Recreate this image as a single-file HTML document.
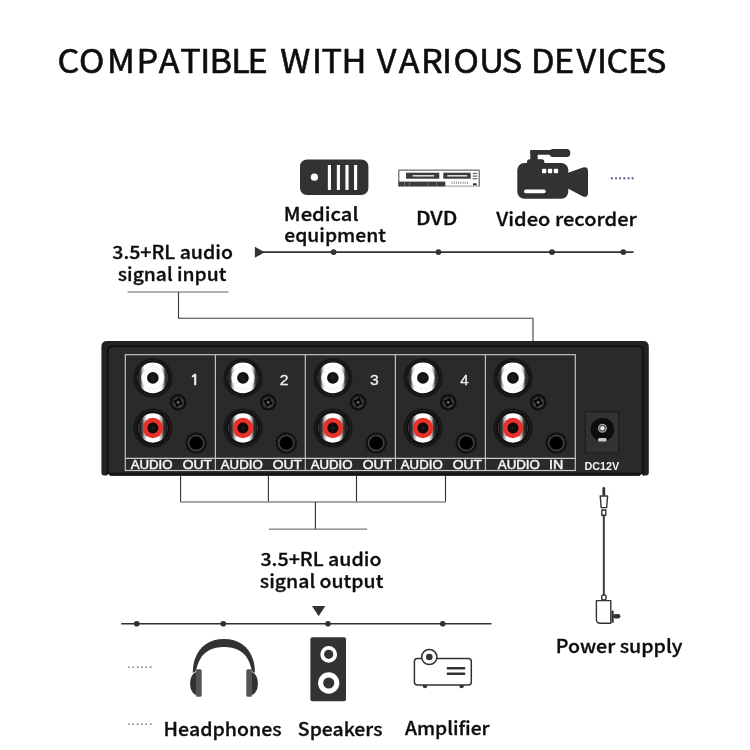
<!DOCTYPE html>
<html lang="en">
<head>
<meta charset="utf-8">
<title>Compatible with various devices</title>
<style>
html,body{margin:0;padding:0;background:#fff;}
body{width:750px;height:750px;overflow:hidden;}
svg{display:block;}
text{font-family:"Liberation Sans",sans-serif;white-space:pre;}
</style>
</head>
<body>
<svg width="750" height="750" viewBox="0 0 750 750">
<defs>
<filter id="soft0" x="0" y="0" width="750" height="750" filterUnits="userSpaceOnUse"><feGaussianBlur stdDeviation="0.3"/></filter>
<filter id="soft" x="-5%" y="-5%" width="110%" height="110%"><feGaussianBlur stdDeviation="0.45"/></filter>
<linearGradient id="ringw" x1="0" y1="0" x2="1" y2="0">
<stop offset="0" stop-color="#6a6a6a"/><stop offset="0.03" stop-color="#202020"/><stop offset="0.10" stop-color="#404040"/><stop offset="0.16" stop-color="#b8b8b8"/><stop offset="0.23" stop-color="#ffffff"/><stop offset="0.77" stop-color="#ffffff"/><stop offset="0.84" stop-color="#b8b8b8"/><stop offset="0.90" stop-color="#404040"/><stop offset="0.97" stop-color="#202020"/><stop offset="1" stop-color="#6a6a6a"/>
</linearGradient>
<linearGradient id="ringr" x1="0" y1="0" x2="1" y2="0">
<stop offset="0" stop-color="#606060"/><stop offset="0.03" stop-color="#1c1c1c"/><stop offset="0.13" stop-color="#343434"/><stop offset="0.21" stop-color="#b0b0b0"/><stop offset="0.3" stop-color="#ffffff"/><stop offset="0.7" stop-color="#ffffff"/><stop offset="0.79" stop-color="#b0b0b0"/><stop offset="0.87" stop-color="#343434"/><stop offset="0.97" stop-color="#1c1c1c"/><stop offset="1" stop-color="#606060"/>
</linearGradient>
<radialGradient id="recess" cx="50%" cy="50%" r="50%"><stop offset="0" stop-color="#0e0e0e"/><stop offset="0.80" stop-color="#101010"/><stop offset="0.90" stop-color="#1c1c1c"/><stop offset="0.96" stop-color="#151515"/><stop offset="1" stop-color="#1f1f1f"/></radialGradient>
<radialGradient id="holew" cx="50%" cy="50%" r="50%"><stop offset="0" stop-color="#222"/><stop offset="0.6" stop-color="#141414"/><stop offset="1" stop-color="#0a0a0a"/></radialGradient>
<radialGradient id="holer" cx="50%" cy="50%" r="50%"><stop offset="0" stop-color="#222"/><stop offset="0.5" stop-color="#0a0a0a"/><stop offset="0.85" stop-color="#1a0505"/><stop offset="1" stop-color="#5a0f0c"/></radialGradient>
<radialGradient id="jackg" cx="50%" cy="50%" r="50%"><stop offset="0" stop-color="#0c0c0c"/><stop offset="0.82" stop-color="#0f0f0f"/><stop offset="0.93" stop-color="#161616"/><stop offset="1" stop-color="#222"/></radialGradient>
<radialGradient id="screwg" cx="55%" cy="60%" r="60%"><stop offset="0" stop-color="#4c4c4c"/><stop offset="0.6" stop-color="#393939"/><stop offset="1" stop-color="#2a2a2a"/></radialGradient>
</defs>
<rect width="750" height="750" fill="#fff"/>
<g id="art" filter="url(#soft0)">

<text transform="scale(1.0450 1)" x="54.98 75.56 102.46 130.73 151.92 172.61 191.69 200.46 221.39 236.96 256.64 268.14 298.53 307.73 326.76 346.44 360.57 381.49 402.87 422.93 433.89 458.64 480.25 499.93 508.24 530.07 551.76 571.21 580.48 600.79 618.24" y="73.00" font-size="32.80" style="font-family:'Noto Sans CJK SC','DejaVu Sans',sans-serif" fill="#0d0d0d" stroke="#0d0d0d" stroke-width="0.60" stroke-linejoin="round">COMPATIBLE WITH VARIOUS DEVICES</text>
<g id="ic-medical"><rect x="300" y="159.4" width="68.4" height="35.6" rx="7" fill="#333"/>
<circle cx="314.4" cy="177.2" r="3.6" fill="#fff"/>
<rect x="327.85" y="165" width="3.1" height="25" fill="#fff"/>
<rect x="336.85" y="165" width="3.1" height="25" fill="#fff"/>
<rect x="345.45" y="165" width="3.1" height="25" fill="#fff"/>
<rect x="354.05" y="165" width="3.1" height="25" fill="#fff"/>
</g>
<g id="ic-dvd">
<rect x="398.8" y="170.1" width="80.4" height="16" fill="#fff"/><path d="M398.8 186.1 H479.2" stroke="#9a9a9a" stroke-width="1" fill="none"/><path d="M398.8 186.4 V170.1 H479.2 V186.4" stroke="#444" stroke-width="1" fill="none"/>
<rect x="406" y="172.7" width="33.3" height="6" fill="#3a3a3a"/><rect x="412.7" y="175" width="21.3" height="1.6" fill="#d8d8d8"/>
<rect x="443.3" y="172.7" width="27.4" height="6" fill="#3a3a3a"/><rect x="447.3" y="175" width="20" height="1.6" fill="#d8d8d8"/>
<rect x="472.7" y="172.9" width="4.6" height="1.2" fill="#666"/>
<rect x="472.7" y="175.5" width="4.6" height="1.2" fill="#666"/>
<rect x="472.7" y="178.1" width="4.6" height="1.2" fill="#666"/>
<rect x="398.7" y="181.6" width="46.6" height="4.8" fill="#3a3a3a"/>
<rect x="404.0" y="181.6" width="0.7" height="4.8" fill="#888"/>
<rect x="409.3" y="181.6" width="0.7" height="4.8" fill="#888"/>
<rect x="427.6" y="181.6" width="0.7" height="4.8" fill="#888"/>
<rect x="436.5" y="181.6" width="0.7" height="4.8" fill="#888"/>
<rect x="451.5" y="181.6" width="1" height="2.4" fill="#999"/>
<rect x="453.7" y="181.6" width="1" height="2.4" fill="#999"/>
<rect x="455.9" y="181.6" width="1" height="2.4" fill="#999"/>
<rect x="458.1" y="181.6" width="1" height="2.4" fill="#999"/>
<rect x="460.3" y="181.6" width="1" height="2.4" fill="#999"/>
<rect x="462.5" y="181.6" width="1" height="2.4" fill="#999"/>
<rect x="464.7" y="181.6" width="1" height="2.4" fill="#999"/>
<rect x="466.9" y="181.6" width="1" height="2.4" fill="#999"/>
<rect x="473" y="183.3" width="3.7" height="2" fill="#333"/>
</g>
<g id="ic-cam" fill="#333">
<rect x="517.3" y="162.9" width="51" height="35.8" rx="7"/>
<path d="M566 173.4 L583 167.5 Q588 165.9 588 171.3 V192.7 Q588 198.1 583 196.5 L566 187.6 Z"/>
<rect x="530.3" y="150" width="30" height="4.8" rx="1.5"/>
<rect x="549.5" y="149" width="20.7" height="8" rx="3.5"/>
<rect x="530.3" y="150" width="7.4" height="14"/>
<rect x="527" y="159.3" width="17.3" height="6" rx="2.5"/>
<rect x="542.0" y="168.7" width="4.3" height="4.6" rx="1" fill="#fff"/>
<rect x="547.9" y="168.7" width="4.3" height="4.6" rx="1" fill="#fff"/>
<rect x="553.8" y="168.7" width="4.3" height="4.6" rx="1" fill="#fff"/>
<rect x="524" y="189.6" width="21.7" height="3.7" rx="1.8" fill="#fff"/>
</g>
<text x="609.78" y="178.70" font-size="15.00" fill="#46507a" textLength="25.03" lengthAdjust="spacingAndGlyphs" stroke="#46507a" stroke-width="0.30" stroke-linejoin="round">......</text>
<text x="283.87" y="220.80" font-size="18.20" font-weight="500" style="font-family:'Noto Sans CJK SC','DejaVu Sans',sans-serif" fill="#111" textLength="74.63" lengthAdjust="spacingAndGlyphs" stroke="#111" stroke-width="0.32" stroke-linejoin="round">Medical</text>
<text x="284.25" y="242.00" font-size="18.20" font-weight="500" style="font-family:'Noto Sans CJK SC','DejaVu Sans',sans-serif" fill="#111" textLength="101.69" lengthAdjust="spacingAndGlyphs" stroke="#111" stroke-width="0.32" stroke-linejoin="round">equipment</text>
<text x="416.00" y="225.30" font-size="18.20" font-weight="500" style="font-family:'Noto Sans CJK SC','DejaVu Sans',sans-serif" fill="#111" textLength="41.33" lengthAdjust="spacingAndGlyphs" stroke="#111" stroke-width="0.32" stroke-linejoin="round">DVD</text>
<text x="496.37" y="226.20" font-size="18.20" font-weight="500" style="font-family:'Noto Sans CJK SC','DejaVu Sans',sans-serif" fill="#111" textLength="140.41" lengthAdjust="spacingAndGlyphs" stroke="#111" stroke-width="0.32" stroke-linejoin="round">Video recorder</text>
<text x="112.25" y="258.70" font-size="18.20" font-weight="500" style="font-family:'Noto Sans CJK SC','DejaVu Sans',sans-serif" fill="#111" textLength="120.71" lengthAdjust="spacingAndGlyphs" stroke="#111" stroke-width="0.32" stroke-linejoin="round">3.5+RL audio</text>
<text x="117.86" y="280.50" font-size="18.20" font-weight="500" style="font-family:'Noto Sans CJK SC','DejaVu Sans',sans-serif" fill="#111" textLength="108.48" lengthAdjust="spacingAndGlyphs" stroke="#111" stroke-width="0.32" stroke-linejoin="round">signal input</text>
<text x="260.45" y="565.70" font-size="18.20" font-weight="500" style="font-family:'Noto Sans CJK SC','DejaVu Sans',sans-serif" fill="#111" textLength="121.11" lengthAdjust="spacingAndGlyphs" stroke="#111" stroke-width="0.32" stroke-linejoin="round">3.5+RL audio</text>
<text x="259.86" y="587.50" font-size="18.20" font-weight="500" style="font-family:'Noto Sans CJK SC','DejaVu Sans',sans-serif" fill="#111" textLength="123.49" lengthAdjust="spacingAndGlyphs" stroke="#111" stroke-width="0.32" stroke-linejoin="round">signal output</text>
<text x="555.82" y="652.90" font-size="18.20" font-weight="500" style="font-family:'Noto Sans CJK SC','DejaVu Sans',sans-serif" fill="#111" textLength="126.67" lengthAdjust="spacingAndGlyphs" stroke="#111" stroke-width="0.32" stroke-linejoin="round">Power supply</text>
<text x="163.63" y="736.00" font-size="18.20" font-weight="500" style="font-family:'Noto Sans CJK SC','DejaVu Sans',sans-serif" fill="#111" textLength="118.04" lengthAdjust="spacingAndGlyphs" stroke="#111" stroke-width="0.32" stroke-linejoin="round">Headphones</text>
<text x="297.85" y="735.80" font-size="18.20" font-weight="500" style="font-family:'Noto Sans CJK SC','DejaVu Sans',sans-serif" fill="#111" textLength="84.61" lengthAdjust="spacingAndGlyphs" stroke="#111" stroke-width="0.32" stroke-linejoin="round">Speakers</text>
<text x="404.96" y="734.50" font-size="18.20" font-weight="500" style="font-family:'Noto Sans CJK SC','DejaVu Sans',sans-serif" fill="#111" textLength="84.53" lengthAdjust="spacingAndGlyphs" stroke="#111" stroke-width="0.32" stroke-linejoin="round">Amplifier</text>
<g id="lines" stroke="#333" fill="none">
<path d="M262 252.1 H633.6" stroke-width="1.6"/>
<path d="M121.2 623.8 H491.5" stroke-width="1.6"/>
<g>
<path d="M127.6 292 H228.4" stroke="#969696" stroke-width="1.4"/>
<path d="M178.5 292 V318.3" stroke="#3a3a3a" stroke-width="1.1"/>
<path d="M178 318.3 H533.5" stroke="#3c3c3c" stroke-width="1.1"/>
<path d="M533 318.3 V342" stroke="#666" stroke-width="1.4"/>
<path d="M180.6 475 V502 M268.4 475 V502 M356.5 475 V502 M445.5 475 V502" stroke="#333" stroke-width="1.1"/>
<path d="M180.1 501.9 H446" stroke="#8a8a8a" stroke-width="1.5"/>
<path d="M315.4 502 V529.2" stroke="#2c2c2c" stroke-width="1.1"/>
<path d="M268.8 529.1 H367.2" stroke="#7a7a7a" stroke-width="1.4"/>
</g></g>
<g id="marks" fill="#333">
<path d="M254.9 246.7 L264.7 252.2 L254.9 257.7 Z"/>
<path d="M312 605.9 H325.3 L318.65 616.2 Z"/>
<circle cx="333.6" cy="252.1" r="2.9"/>
<circle cx="438.4" cy="252.1" r="2.9"/>
<circle cx="552.0" cy="252.1" r="2.9"/>
<circle cx="623.3" cy="252.1" r="2.9"/>
<circle cx="136.7" cy="623.8" r="2.8"/>
<circle cx="223.3" cy="623.8" r="2.8"/>
<circle cx="328.0" cy="623.8" r="2.8"/>
<circle cx="442.7" cy="623.8" r="2.8"/>
</g>
<g id="device" filter="url(#soft)">
<path d="M107.2 341 H643 Q648.8 341 648.8 346.8 V472.5 Q648.8 475.5 645.8 475.5 H104.4 Q101.4 475.5 101.4 472.5 V346.8 Q101.4 341 107.2 341 Z" fill="#232323"/>
<rect x="108.2" y="346.6" width="534.2" height="129" rx="4" fill="#2a2a2a"/>
<path d="M107.9 475.5 V350.6 Q107.9 346.2 112.3 346.2 H638.3 Q642.7 346.2 642.7 350.6 V475.5" fill="none" stroke="#0a0a0a" stroke-width="1.5"/>
<rect x="107.6" y="472.6" width="534.8" height="3" fill="#151515"/>
<path d="M106.7 476.4 Q107.4 473.9 108.3 473.9 Q109.3 473.9 110.4 476.4 Z M639.6 476.4 Q640.7 473.9 641.7 473.9 Q642.6 473.9 643.3 476.4 Z" fill="#fff"/>
<rect x="125.3" y="354.7" width="450.0" height="115.8" fill="#2b2b2b"/>
<circle cx="152.85" cy="377.90" r="19.8" fill="url(#recess)"/>
<circle cx="152.85" cy="377.90" r="15.3" fill="url(#ringw)"/>
<circle cx="152.85" cy="377.90" r="11.2" fill="#fdfdfd" stroke="#ececec" stroke-width="0.8"/>
<circle cx="152.85" cy="377.90" r="5.8" fill="url(#holew)"/>
<circle cx="152.85" cy="427.95" r="19.8" fill="url(#recess)"/>
<circle cx="152.85" cy="427.95" r="14.7" fill="url(#ringr)"/>
<circle cx="152.85" cy="427.95" r="10.2" fill="#e6322c"/>
<circle cx="152.85" cy="427.95" r="5.6" fill="url(#holer)"/>
<circle cx="178.10" cy="402.30" r="8.3" fill="#0f0f0f"/>
<circle cx="178.10" cy="402.30" r="6.1" fill="url(#screwg)"/>
<path transform="translate(178.10 402.30) rotate(17)" d="M0 -5.2 Q1.7 -1.7 5.2 0 Q1.7 1.7 0 5.2 Q-1.7 1.7 -5.2 0 Q-1.7 -1.7 0 -5.2 Z" fill="#050505"/>
<circle cx="178.10" cy="402.30" r="1.5" fill="#636363"/>
<circle cx="196.20" cy="443.00" r="11.1" fill="url(#jackg)"/>
<circle cx="196.20" cy="443.00" r="7.7" fill="#030303" stroke="#3e3e3e" stroke-width="1.7"/>
<circle cx="242.95" cy="377.90" r="19.8" fill="url(#recess)"/>
<circle cx="242.95" cy="377.90" r="15.3" fill="url(#ringw)"/>
<circle cx="242.95" cy="377.90" r="11.2" fill="#fdfdfd" stroke="#ececec" stroke-width="0.8"/>
<circle cx="242.95" cy="377.90" r="5.8" fill="url(#holew)"/>
<circle cx="242.95" cy="427.95" r="19.8" fill="url(#recess)"/>
<circle cx="242.95" cy="427.95" r="14.7" fill="url(#ringr)"/>
<circle cx="242.95" cy="427.95" r="10.2" fill="#e6322c"/>
<circle cx="242.95" cy="427.95" r="5.6" fill="url(#holer)"/>
<circle cx="268.20" cy="402.30" r="8.3" fill="#0f0f0f"/>
<circle cx="268.20" cy="402.30" r="6.1" fill="url(#screwg)"/>
<path transform="translate(268.20 402.30) rotate(17)" d="M0 -5.2 Q1.7 -1.7 5.2 0 Q1.7 1.7 0 5.2 Q-1.7 1.7 -5.2 0 Q-1.7 -1.7 0 -5.2 Z" fill="#050505"/>
<circle cx="268.20" cy="402.30" r="1.5" fill="#636363"/>
<circle cx="286.30" cy="443.00" r="11.1" fill="url(#jackg)"/>
<circle cx="286.30" cy="443.00" r="7.7" fill="#030303" stroke="#3e3e3e" stroke-width="1.7"/>
<circle cx="332.85" cy="377.90" r="19.8" fill="url(#recess)"/>
<circle cx="332.85" cy="377.90" r="15.3" fill="url(#ringw)"/>
<circle cx="332.85" cy="377.90" r="11.2" fill="#fdfdfd" stroke="#ececec" stroke-width="0.8"/>
<circle cx="332.85" cy="377.90" r="5.8" fill="url(#holew)"/>
<circle cx="332.85" cy="427.95" r="19.8" fill="url(#recess)"/>
<circle cx="332.85" cy="427.95" r="14.7" fill="url(#ringr)"/>
<circle cx="332.85" cy="427.95" r="10.2" fill="#e6322c"/>
<circle cx="332.85" cy="427.95" r="5.6" fill="url(#holer)"/>
<circle cx="358.10" cy="402.30" r="8.3" fill="#0f0f0f"/>
<circle cx="358.10" cy="402.30" r="6.1" fill="url(#screwg)"/>
<path transform="translate(358.10 402.30) rotate(17)" d="M0 -5.2 Q1.7 -1.7 5.2 0 Q1.7 1.7 0 5.2 Q-1.7 1.7 -5.2 0 Q-1.7 -1.7 0 -5.2 Z" fill="#050505"/>
<circle cx="358.10" cy="402.30" r="1.5" fill="#636363"/>
<circle cx="376.20" cy="443.00" r="11.1" fill="url(#jackg)"/>
<circle cx="376.20" cy="443.00" r="7.7" fill="#030303" stroke="#3e3e3e" stroke-width="1.7"/>
<circle cx="422.95" cy="377.90" r="19.8" fill="url(#recess)"/>
<circle cx="422.95" cy="377.90" r="15.3" fill="url(#ringw)"/>
<circle cx="422.95" cy="377.90" r="11.2" fill="#fdfdfd" stroke="#ececec" stroke-width="0.8"/>
<circle cx="422.95" cy="377.90" r="5.8" fill="url(#holew)"/>
<circle cx="422.95" cy="427.95" r="19.8" fill="url(#recess)"/>
<circle cx="422.95" cy="427.95" r="14.7" fill="url(#ringr)"/>
<circle cx="422.95" cy="427.95" r="10.2" fill="#e6322c"/>
<circle cx="422.95" cy="427.95" r="5.6" fill="url(#holer)"/>
<circle cx="448.20" cy="402.30" r="8.3" fill="#0f0f0f"/>
<circle cx="448.20" cy="402.30" r="6.1" fill="url(#screwg)"/>
<path transform="translate(448.20 402.30) rotate(17)" d="M0 -5.2 Q1.7 -1.7 5.2 0 Q1.7 1.7 0 5.2 Q-1.7 1.7 -5.2 0 Q-1.7 -1.7 0 -5.2 Z" fill="#050505"/>
<circle cx="448.20" cy="402.30" r="1.5" fill="#636363"/>
<circle cx="466.30" cy="443.00" r="11.1" fill="url(#jackg)"/>
<circle cx="466.30" cy="443.00" r="7.7" fill="#030303" stroke="#3e3e3e" stroke-width="1.7"/>
<circle cx="512.95" cy="377.90" r="19.8" fill="url(#recess)"/>
<circle cx="512.95" cy="377.90" r="15.3" fill="url(#ringw)"/>
<circle cx="512.95" cy="377.90" r="11.2" fill="#fdfdfd" stroke="#ececec" stroke-width="0.8"/>
<circle cx="512.95" cy="377.90" r="5.8" fill="url(#holew)"/>
<circle cx="512.95" cy="427.95" r="19.8" fill="url(#recess)"/>
<circle cx="512.95" cy="427.95" r="14.7" fill="url(#ringr)"/>
<circle cx="512.95" cy="427.95" r="10.2" fill="#e6322c"/>
<circle cx="512.95" cy="427.95" r="5.6" fill="url(#holer)"/>
<circle cx="538.20" cy="402.30" r="8.3" fill="#0f0f0f"/>
<circle cx="538.20" cy="402.30" r="6.1" fill="url(#screwg)"/>
<path transform="translate(538.20 402.30) rotate(17)" d="M0 -5.2 Q1.7 -1.7 5.2 0 Q1.7 1.7 0 5.2 Q-1.7 1.7 -5.2 0 Q-1.7 -1.7 0 -5.2 Z" fill="#050505"/>
<circle cx="538.20" cy="402.30" r="1.5" fill="#636363"/>
<circle cx="556.30" cy="443.00" r="11.1" fill="url(#jackg)"/>
<circle cx="556.30" cy="443.00" r="7.7" fill="#030303" stroke="#3e3e3e" stroke-width="1.7"/>
<g fill="none" stroke="#c9c9c9" stroke-width="1.15">
<rect x="125.3" y="354.7" width="450.0" height="115.8"/>
<path d="M125.3 458.4 H575.3"/>
<path d="M215.4 354.7 V470.5"/>
<path d="M305.3 354.7 V470.5"/>
<path d="M395.4 354.7 V470.5"/>
<path d="M485.4 354.7 V470.5"/>
</g>
<text x="189.68" y="385.30" font-size="14.60" font-weight="bold" style="font-family:'NanumGothic','DejaVu Sans',sans-serif" fill="#f0f0f0" textLength="10.04" lengthAdjust="spacingAndGlyphs" stroke="#f0f0f0" stroke-width="0.30" stroke-linejoin="round">1</text>
<text x="130.65" y="468.70" font-size="12.00" fill="#f4f4f4" textLength="41.98" lengthAdjust="spacingAndGlyphs" stroke="#f4f4f4" stroke-width="0.50" stroke-linejoin="round">AUDIO</text>
<text x="182.70" y="468.70" font-size="12.00" fill="#f4f4f4" textLength="29.18" lengthAdjust="spacingAndGlyphs" stroke="#f4f4f4" stroke-width="0.50" stroke-linejoin="round">OUT</text>
<text x="279.81" y="385.30" font-size="14.20" fill="#f0f0f0" textLength="8.78" lengthAdjust="spacingAndGlyphs" stroke="#f0f0f0" stroke-width="0.30" stroke-linejoin="round">2</text>
<text x="220.75" y="468.70" font-size="12.00" fill="#f4f4f4" textLength="41.98" lengthAdjust="spacingAndGlyphs" stroke="#f4f4f4" stroke-width="0.50" stroke-linejoin="round">AUDIO</text>
<text x="272.80" y="468.70" font-size="12.00" fill="#f4f4f4" textLength="29.18" lengthAdjust="spacingAndGlyphs" stroke="#f4f4f4" stroke-width="0.50" stroke-linejoin="round">OUT</text>
<text x="370.06" y="385.30" font-size="14.20" fill="#f0f0f0" textLength="8.73" lengthAdjust="spacingAndGlyphs" stroke="#f0f0f0" stroke-width="0.30" stroke-linejoin="round">3</text>
<text x="310.65" y="468.70" font-size="12.00" fill="#f4f4f4" textLength="41.98" lengthAdjust="spacingAndGlyphs" stroke="#f4f4f4" stroke-width="0.50" stroke-linejoin="round">AUDIO</text>
<text x="362.70" y="468.70" font-size="12.00" fill="#f4f4f4" textLength="29.18" lengthAdjust="spacingAndGlyphs" stroke="#f4f4f4" stroke-width="0.50" stroke-linejoin="round">OUT</text>
<text x="460.21" y="385.30" font-size="14.20" fill="#f0f0f0" textLength="8.41" lengthAdjust="spacingAndGlyphs" stroke="#f0f0f0" stroke-width="0.30" stroke-linejoin="round">4</text>
<text x="400.75" y="468.70" font-size="12.00" fill="#f4f4f4" textLength="41.98" lengthAdjust="spacingAndGlyphs" stroke="#f4f4f4" stroke-width="0.50" stroke-linejoin="round">AUDIO</text>
<text x="452.80" y="468.70" font-size="12.00" fill="#f4f4f4" textLength="29.18" lengthAdjust="spacingAndGlyphs" stroke="#f4f4f4" stroke-width="0.50" stroke-linejoin="round">OUT</text>
<text x="497.75" y="468.70" font-size="12.00" fill="#f4f4f4" textLength="42.18" lengthAdjust="spacingAndGlyphs" stroke="#f4f4f4" stroke-width="0.50" stroke-linejoin="round">AUDIO</text>
<text x="549.13" y="468.70" font-size="12.00" fill="#f4f4f4" textLength="14.28" lengthAdjust="spacingAndGlyphs" stroke="#f4f4f4" stroke-width="0.50" stroke-linejoin="round">IN</text>
<rect x="585.3" y="411.7" width="33.4" height="41.3" fill="#313131" stroke="#1a1a1a" stroke-width="1"/>
<circle cx="602.4" cy="429.6" r="11.7" fill="#080808"/>
<circle cx="602.4" cy="428.3" r="4.5" fill="#9c9c9c"/><circle cx="602.4" cy="428.3" r="3.2" fill="#5a5a5a"/><circle cx="602.4" cy="428.3" r="2" fill="#f4f4f4"/>
<rect x="598" y="438" width="8.7" height="3.6" rx="1.6" fill="#c8c8c8"/>
<text x="584.42" y="469.80" font-size="11.70" font-weight="bold" fill="#f4f4f4" textLength="34.92" lengthAdjust="spacingAndGlyphs">DC12V</text>
</g>
<g id="power" stroke="#333" fill="#fff" stroke-width="1.4" stroke-linejoin="round">
<path d="M603.8 515.5 V595" stroke-width="1.9" fill="none"/>
<rect x="602.4" y="487" width="2.8" height="9" rx="1.4" fill="#333" stroke="none"/>
<path d="M600.2 496 H607.6 L606.6 507.6 H601.2 Z"/>
<rect x="601.8" y="510" width="4" height="5.2"/>
<rect x="601.7" y="595" width="4.3" height="5" rx="1.8"/>
<path d="M596.4 600.6 H610.8 V623.3 H600.4 Q596.4 623.3 596.4 619.3 Z"/>
<rect x="611.5" y="610.6" width="2.2" height="12.1" fill="#333" stroke="none"/>
<rect x="613" y="613.9" width="7.4" height="4.6" rx="2.3" fill="#333" stroke="none"/>
</g>
<g id="ic-head">
<path d="M192.8 673 C192.8 652 205 639.1 224 639.1 C243 639.1 255 652 255 673 L251.8 671 C249 655 240 647.1 224 647.1 C208 647.1 199 655 196 671 Z" fill="#333"/>
<path d="M196.4 672 C188 674 188 693 196.4 695 Z" fill="#333"/>
<rect x="196" y="669.3" width="5.7" height="27.4" rx="1.5" fill="#555"/>
<path d="M251.6 672 C260 674 260 693 251.6 695 Z" fill="#333"/>
<rect x="246.3" y="669.3" width="5.7" height="27.4" rx="1.5" fill="#555"/>
</g>
<g id="ic-spk"><rect x="310.4" y="637.3" width="35.6" height="64" rx="2" fill="#333"/>
<circle cx="328.7" cy="654.3" r="6.5" fill="none" stroke="#fff" stroke-width="3.7"/>
<circle cx="328.7" cy="683" r="8.1" fill="none" stroke="#fff" stroke-width="5.1"/></g>
<g id="ic-amp" stroke="#333" stroke-width="1.5" fill="#fff">
<circle cx="425" cy="686.2" r="2.1" fill="#333" stroke="none"/><circle cx="461.6" cy="686.2" r="2.1" fill="#333" stroke="none"/>
<rect x="414.4" y="658.4" width="56.9" height="26.6" rx="3"/>
<circle cx="429.3" cy="657" r="7.6"/>
<circle cx="429.3" cy="657" r="3.3" fill="#333" stroke="none"/>
<path d="M447.8 668.3 H464.2 M447.8 673.7 H464.2" stroke-width="2.4" stroke-linecap="round" fill="none"/>
</g>
<text x="126.78" y="668.40" font-size="15.00" fill="#7a7a7a" textLength="26.03" lengthAdjust="spacingAndGlyphs">......</text>
<text x="126.78" y="724.60" font-size="15.00" fill="#7a7a7a" textLength="26.03" lengthAdjust="spacingAndGlyphs">......</text>
</g>
</svg>
</body>
</html>
